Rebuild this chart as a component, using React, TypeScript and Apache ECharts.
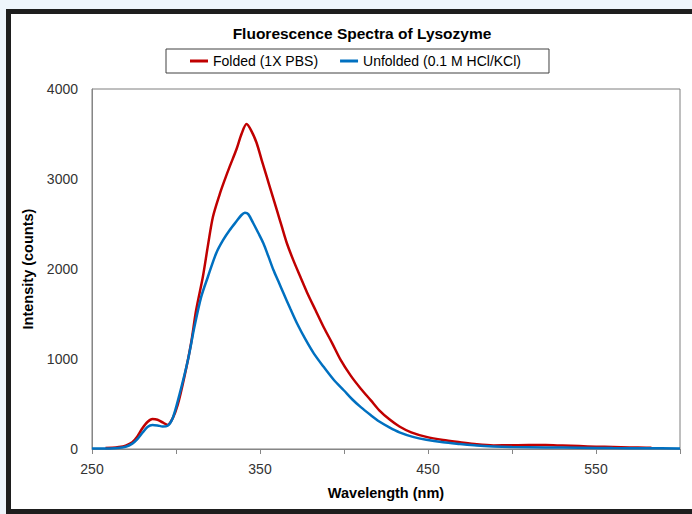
import React, { useEffect, useRef } from "react";
import * as echarts from "echarts";

const titleText = "Fluorescence Spectra of Lysozyme";
const seriesNames = ["Folded (1X PBS)", "Unfolded (0.1 M HCl/KCl)"];
const seriesColors = ["#c00000", "#0070c0"];

const foldedWl = [258, 262, 266, 270, 274, 277, 280, 283, 286, 289, 292, 295, 298, 301, 305, 309, 312, 316, 319, 322, 326, 329, 332, 336, 339, 342, 345, 348, 351, 354, 357, 360, 363, 366, 370, 374, 378, 383, 388, 393, 398, 404, 410, 416, 421, 427, 433, 440, 449, 459, 469, 479, 489, 500, 510, 520, 530, 540, 550, 560, 570, 580, 583];
const foldedIntensity = [12, 14, 22, 38, 75, 140, 230, 300, 333, 325, 295, 268, 341, 489, 803, 1178, 1544, 1914, 2260, 2580, 2830, 2990, 3140, 3330, 3500, 3611, 3530, 3400, 3210, 3026, 2840, 2656, 2470, 2286, 2090, 1914, 1740, 1544, 1350, 1174, 990, 815, 670, 540, 430, 330, 250, 185, 135, 100, 75, 52, 40, 42, 44, 44, 38, 32, 26, 22, 18, 15, 14];

const unfoldedWl = [250, 255, 260, 265, 270, 274, 277, 280, 283, 286, 289, 292, 295, 298, 302, 307, 311, 315, 319, 324, 328, 332, 336, 339, 341, 343, 346, 349, 352, 355, 358, 361, 364, 368, 372, 377, 382, 388, 394, 400, 405, 410, 416, 421, 427, 433, 441, 449, 459, 469, 479, 489, 500, 520, 540, 560, 580, 600];
const unfoldedIntensity = [5, 5, 6, 10, 25, 60, 110, 180, 245, 268, 262, 250, 258, 340, 600, 980, 1360, 1690, 1914, 2178, 2320, 2433, 2530, 2600, 2625, 2610, 2508, 2400, 2286, 2140, 1989, 1860, 1730, 1560, 1397, 1220, 1063, 910, 767, 650, 550, 465, 375, 305, 240, 185, 135, 102, 74, 55, 38, 28, 22, 18, 14, 10, 8, 6];

const xAxisName = "Wavelength (nm)";
const yAxisName = "Intensity (counts)";
const xMin = 250;
const xMax = 600;
const xStep = 50;
const yMin = 0;
const yMax = 4000;
const yStep = 1000;

const FONT = "'Liberation Sans', Arial, sans-serif";

export default function App() {
  const ref = useRef<HTMLDivElement>(null);

  useEffect(() => {
    if (!ref.current) return;
    const chart = echarts.init(ref.current, undefined, { renderer: "svg" });
    const folded = foldedWl.map((w, i) => [w, foldedIntensity[i]]);
    const unfolded = unfoldedWl.map((w, i) => [w, unfoldedIntensity[i]]);
    chart.setOption({
      animation: false,
      backgroundColor: "transparent",
      title: {
        text: titleText,
        left: 357,
        top: 20,
        textAlign: "center",
        textStyle: { fontFamily: FONT, fontSize: 15.5, fontWeight: "bold", color: "#000" },
      },
      legend: {
        left: 166,
        top: 49,
        data: seriesNames,
        icon: "rect",
        itemWidth: 18,
        itemHeight: 3,
        itemGap: 22,
        padding: [5, 28, 5, 24],
        borderColor: "#404040",
        borderWidth: 1,
        backgroundColor: "#fff",
        textStyle: { fontFamily: FONT, fontSize: 14, color: "#000" },
      },
      grid: {
        left: 92,
        top: 89,
        right: 12,
        bottom: 65,
        show: true,
        borderColor: "#7f7f7f",
        borderWidth: 1,
        backgroundColor: "#fff",
      },
      xAxis: {
        type: "value",
        min: xMin,
        max: xMax,
        interval: xStep,
        name: xAxisName,
        nameLocation: "middle",
        nameGap: 36,
        nameTextStyle: { fontFamily: FONT, fontSize: 14.5, fontWeight: "bold", color: "#000" },
        axisLine: { show: true, onZero: false, lineStyle: { color: "#868686", width: 1 } },
        axisTick: { show: true, inside: false, length: 5, lineStyle: { color: "#868686" } },
        splitLine: { show: false },
        axisLabel: {
          margin: 13,
          fontFamily: FONT,
          fontSize: 14,
          color: "#333",
          formatter: (v: number) => ((v - xMin) % 100 === 0 ? String(v) : ""),
        },
      },
      yAxis: {
        type: "value",
        min: yMin,
        max: yMax,
        interval: yStep,
        name: yAxisName,
        nameLocation: "middle",
        nameGap: 51,
        nameTextStyle: { fontFamily: FONT, fontSize: 14.5, fontWeight: "bold", color: "#000" },
        axisLine: { show: true, lineStyle: { color: "#868686", width: 1 } },
        axisTick: { show: false },
        splitLine: { show: false },
        axisLabel: { margin: 14, fontFamily: FONT, fontSize: 14, color: "#333", formatter: (v: number) => String(v) },
      },
      series: [
        {
          name: seriesNames[0],
          type: "line",
          data: folded,
          showSymbol: false,
          smooth: 0.3,
          color: seriesColors[0],
          lineStyle: { color: seriesColors[0], width: 2.5 },
          z: 3,
        },
        {
          name: seriesNames[1],
          type: "line",
          data: unfolded,
          showSymbol: false,
          smooth: 0.3,
          color: seriesColors[1],
          lineStyle: { color: seriesColors[1], width: 2.5 },
          z: 4,
        },
      ],
    });
    return () => chart.dispose();
  }, []);

  return (
    <div style={{ position: "fixed", left: 0, top: 0, width: 692, height: 514, background: "#eef5fb", overflow: "hidden" }}>
      <div
        style={{
          position: "absolute",
          left: 6,
          top: 9,
          width: 720,
          height: 520,
          border: "5px solid #1e1e1e",
          background: "#fff",
          boxSizing: "border-box",
        }}
      />
      <div style={{ position: "absolute", left: 0, top: 0, width: 692, height: 514 }}>
        <div ref={ref} style={{ width: 692, height: 514 }} />
      </div>
      <div style={{ position: "absolute", left: 6, top: 509, width: 700, height: 5, background: "#1e1e1e" }} />
    </div>
  );
}
